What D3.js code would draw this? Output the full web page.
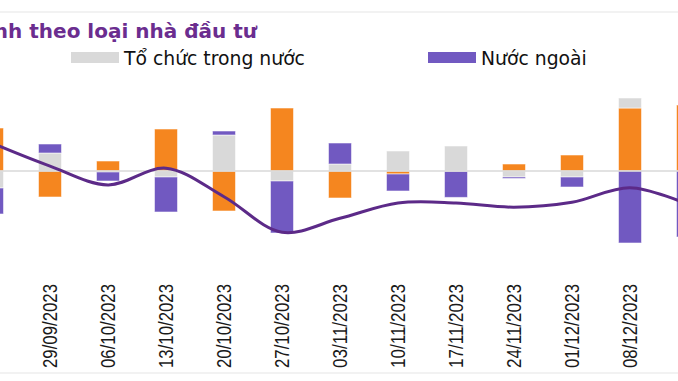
<!DOCTYPE html>
<html><head><meta charset="utf-8">
<script src="https://cdn.jsdelivr.net/npm/d3@7"></script>
<style>
html,body{margin:0;padding:0;background:#fff;overflow:hidden;}
svg{display:block;}
</style></head>
<body>
<svg id="c" width="678" height="381"></svg>
<script>
const categories = ["22/09/2023","29/09/2023","06/10/2023","13/10/2023","20/10/2023","27/10/2023","03/11/2023","10/11/2023","17/11/2023","24/11/2023","01/12/2023","08/12/2023","15/12/2023"];
const caNhan   = [2150,-1300, 500, 2100,-2000, 3150,-1350,-150, -20, 350, 800, 3150, 3300];
const toChuc   = [-850,  900, -50, -300, 1800, -500,  350, 1000, 1250,-300,-300, 500, 0];
const nuocNgoai= [-1300, 450,-450,-1750,  200,-2600, 1050,-850,-1300, -75,-500,-3600,-3300];
const vnIndex  = [1185,1152,1125,1149,1108,1057,1077,1099,1099,1093,1100,1121,1097];
const seriesNames = ["Cá nhân trong nước","Tổ chức trong nước","Nước ngoài"];
const colors = ["#f5861f","#d9d9d9","#7159c1"];
const titleText = "nh theo loại nhà đầu tư";

const svg = d3.select("#c");
const W = 678, H = 381;

const x = d3.scaleBand().domain(categories).range([-37, 717]).paddingInner(0.603).paddingOuter(0.3015);
const y = d3.scaleLinear().domain([-4000, 4000]).range([251, 91]);
const y2 = d3.scaleLinear().domain([1030, 1260]).range([251, 91]);

// frame lines
svg.append("line").attr("x1",0).attr("x2",W).attr("y1",12).attr("y2",12).attr("stroke","#eeeeee").attr("stroke-width",1.5);
svg.append("line").attr("x1",0).attr("x2",W).attr("y1",373).attr("y2",373).attr("stroke","#eeeeee").attr("stroke-width",1.5);

// title
svg.append("text").attr("x",257).attr("y",38).attr("text-anchor","end")
  .attr("font-family","DejaVu Sans, Verdana, sans-serif").attr("font-weight","bold")
  .attr("font-size",20).attr("fill","#6b2d8f").text(titleText);

// legend (visible items)
const legendItems = [{i:1, x:71},{i:2, x:428}];
legendItems.forEach(d=>{
  svg.append("rect").attr("x",d.x).attr("y",52).attr("width",48).attr("height",11).attr("fill",colors[d.i]);
  svg.append("text").attr("x",d.x+53).attr("y",65).attr("font-family","DejaVu Sans, Verdana, sans-serif")
    .attr("font-size",18.8).attr("fill","#111").text(seriesNames[d.i]);
});

// stacked data
const rows = categories.map((c,i)=>({cat:c, a:caNhan[i], b:toChuc[i], c2:nuocNgoai[i]}));
const keys = ["a","b","c2"];
const stack = d3.stack().keys(keys).offset(d3.stackOffsetDiverging)(rows);

svg.append("g").selectAll("g").data(stack).join("g")
  .attr("fill",(d,i)=>colors[i])
  .selectAll("rect").data(d=>d).join("rect")
  .attr("x",d=>x(d.data.cat))
  .attr("width",x.bandwidth())
  .attr("y",d=>y(Math.max(d[0],d[1])))
  .attr("height",d=>Math.abs(y(d[0])-y(d[1])))
  .attr("stroke","#fff").attr("stroke-opacity",0.55).attr("stroke-width",1);

// zero line
svg.append("line").attr("x1",0).attr("x2",W).attr("y1",y(0)).attr("y2",y(0)).attr("stroke","#d9d9d9").attr("stroke-width",1.5);

// line
const line = d3.line().x((d,i)=>x(categories[i])+x.bandwidth()/2).y(d=>y2(d)).curve(d3.curveCatmullRom.alpha(0.5));
svg.append("path").datum(vnIndex).attr("d",line).attr("fill","none").attr("stroke","#5c2a88").attr("stroke-width",3);

// x labels
svg.append("g").selectAll("text").data(categories).join("text")
  .attr("transform",d=>`translate(${x(d)+x.bandwidth()/2+7},368) rotate(-90)`)
  .attr("text-anchor","start")
  .attr("font-family","Liberation Sans Narrow, Arial Narrow, Liberation Sans, sans-serif")
  .attr("font-size",19.5).attr("fill","#1a1a1a")
  .attr("textLength",84).attr("lengthAdjust","spacingAndGlyphs")
  .text(d=>d);
</script>
</body></html>
